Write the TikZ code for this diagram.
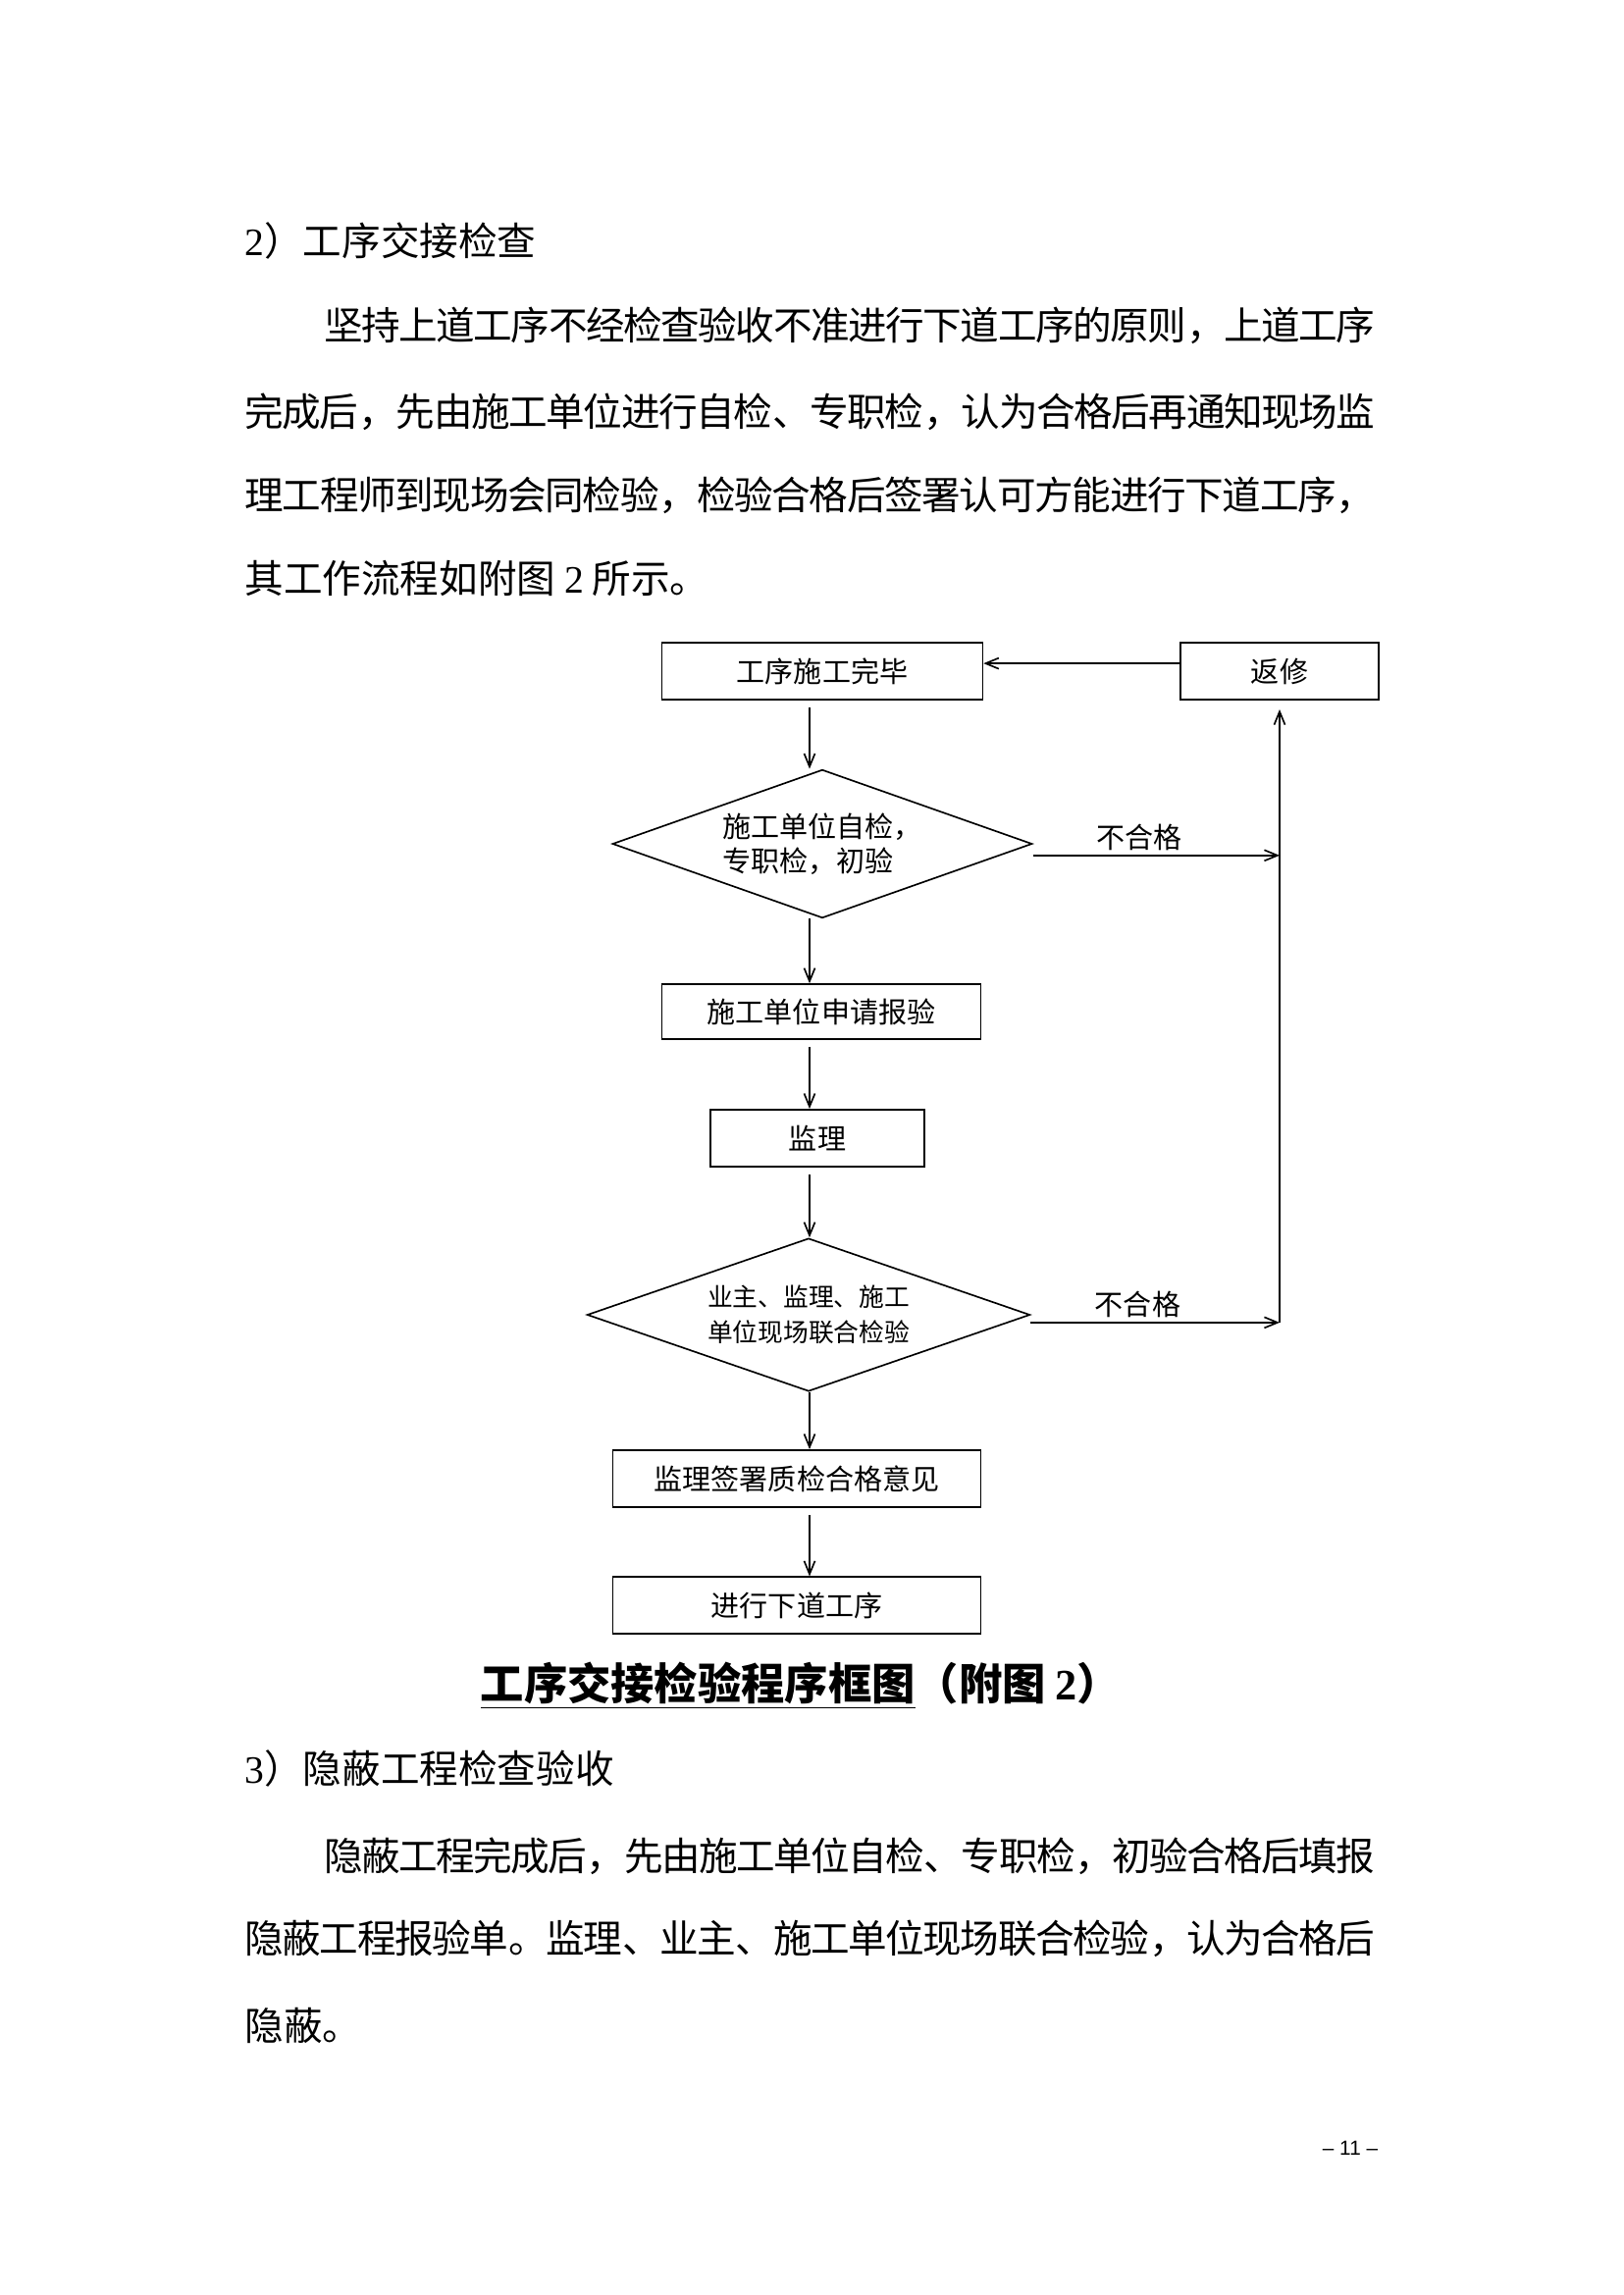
\documentclass[tikz,border=0pt]{standalone}
\usepackage{fontspec}
\setmainfont{Liberation Serif}
\newfontfamily\cjk{Noto Sans CJK SC}
\newfontfamily\pagefont{Liberation Sans}
\usetikzlibrary{shapes.geometric,arrows.meta}
\XeTeXlinebreaklocale "zh"
\XeTeXlinebreakskip=0pt plus 1pt minus 1pt
\newcommand\fullline[1]{\noindent\parfillskip=0pt\relax#1\par}
\newcommand\numtxt[1]{{\rmfamily #1}}
\tikzset{
  stepbox/.style={draw, line width=0.6pt, inner sep=0pt, font=\cjk\fontsize{10.5}{12.6}\selectfont},
  check/.style={draw, diamond, aspect=2.8, line width=0.6pt, inner sep=0pt, align=left, font=\cjk\fontsize{10.5}{12.6}\selectfont},
  flow/.style={line width=0.6pt, -{Straight Barb[length=1.7mm,width=1.4mm]}},
  fail/.style={above, inner sep=0.5mm, font=\cjk\fontsize{10.5}{12.6}\selectfont},
  body/.style={anchor=west, inner sep=0pt, font=\cjk\fontsize{14.3}{18}\selectfont},
  bodyline/.style={body, text width=#1, align=justify}
}
\begin{document}
\begin{tikzpicture}[x=0.126965mm, y=-0.126965mm]
  \useasboundingbox (0,0) rectangle (1654,2339);
  \node[body] (h2) at (249,245) {\numtxt{2}）工序交接检查};
  \node[bodyline=136.04mm] (p1a) at (329.5,332) {\fullline{坚持上道工序不经检查验收不准进行下道工序的原则，上道工序}};
  \node[bodyline=146.26mm] (p1b) at (249,420) {\fullline{完成后，先由施工单位进行自检、专职检，认为合格后再通知现场监}};
  \node[bodyline=146.26mm] (p1c) at (249,505) {\fullline{理工程师到现场会同检验，检验合格后签署认可方能进行下道工序，}};
  \node[body] (p1d) at (249,589) {其工作流程如附图 \numtxt{2} 所示。};

  \coordinate (col) at (825,0);
  \node[stepbox, minimum width=41.5mm, minimum height=7.36mm] (done) at (838,684) {工序施工完毕};
  \node[stepbox, minimum width=25.6mm, minimum height=7.3mm] (redo) at (1304,684) {返修};
  \node[check, minimum width=54.3mm, minimum height=19.2mm] (self) at (838,860) {施工单位自检，\\专职检，初验};
  \node[stepbox, minimum width=41.3mm, minimum height=7.1mm] (apply) at (837,1031) {施工单位申请报验};
  \node[stepbox, minimum width=27.6mm, minimum height=7.4mm] (super) at (833,1160) {监理};
  \node[check, aspect=2.9, minimum width=57.3mm, minimum height=19.8mm,
        font=\cjk\fontsize{9.3}{13}\selectfont] (joint) at (824,1340) {业主、监理、施工\\单位现场联合检验};
  \node[stepbox, minimum width=47.6mm, minimum height=7.4mm] (sign) at (812,1507) {监理签署质检合格意见};
  \node[stepbox, minimum width=47.6mm, minimum height=7.3mm] (next) at (812,1636) {进行下道工序};

  \foreach \a/\b in {done/self, apply/super, super/joint, sign/next}
    \draw[flow, shorten <=0.9mm] (\a.south -| col) -- (\b.north -| col);
  \foreach \a/\b in {self/apply, joint/sign}
    \draw[flow] (\a.south -| col) -- (\b.north -| col);

  \coordinate (f1) at ([yshift=-1.5mm]self.east);
  \coordinate (f2) at ([yshift=-1mm]joint.east);
  \draw[flow] (f1) -- node[fail, pos=0.43] {不合格} (f1 -| redo);
  \draw[flow] (f2) -- node[fail, pos=0.43] {不合格} (f2 -| redo);
  \draw[flow, shorten >=1.2mm] (f2 -| redo) -- (redo.south);
  \draw[flow] ([yshift=1mm]redo.west) -- ([yshift=1mm]redo.west -| done.east);

  \node[font=\cjk\bfseries\fontsize{16}{20}\selectfont] (title) at (816,1718)
    {\underline{工序交接检验程序框图}（附图 \numtxt{2}）};
  \node[body] (h3) at (249,1802) {\numtxt{3}）隐蔽工程检查验收};
  \node[bodyline=136.04mm] (p2a) at (329.5,1892) {\fullline{隐蔽工程完成后，先由施工单位自检、专职检，初验合格后填报}};
  \node[bodyline=146.26mm] (p2b) at (249,1976) {\fullline{隐蔽工程报验单。监理、业主、施工单位现场联合检验，认为合格后}};
  \node[body] (p2c) at (249,2064) {隐蔽。};
  \node[font=\pagefont\fontsize{7.5}{9}\selectfont] (page) at (1376,2189) {– 11 –};
\end{tikzpicture}
\end{document}
